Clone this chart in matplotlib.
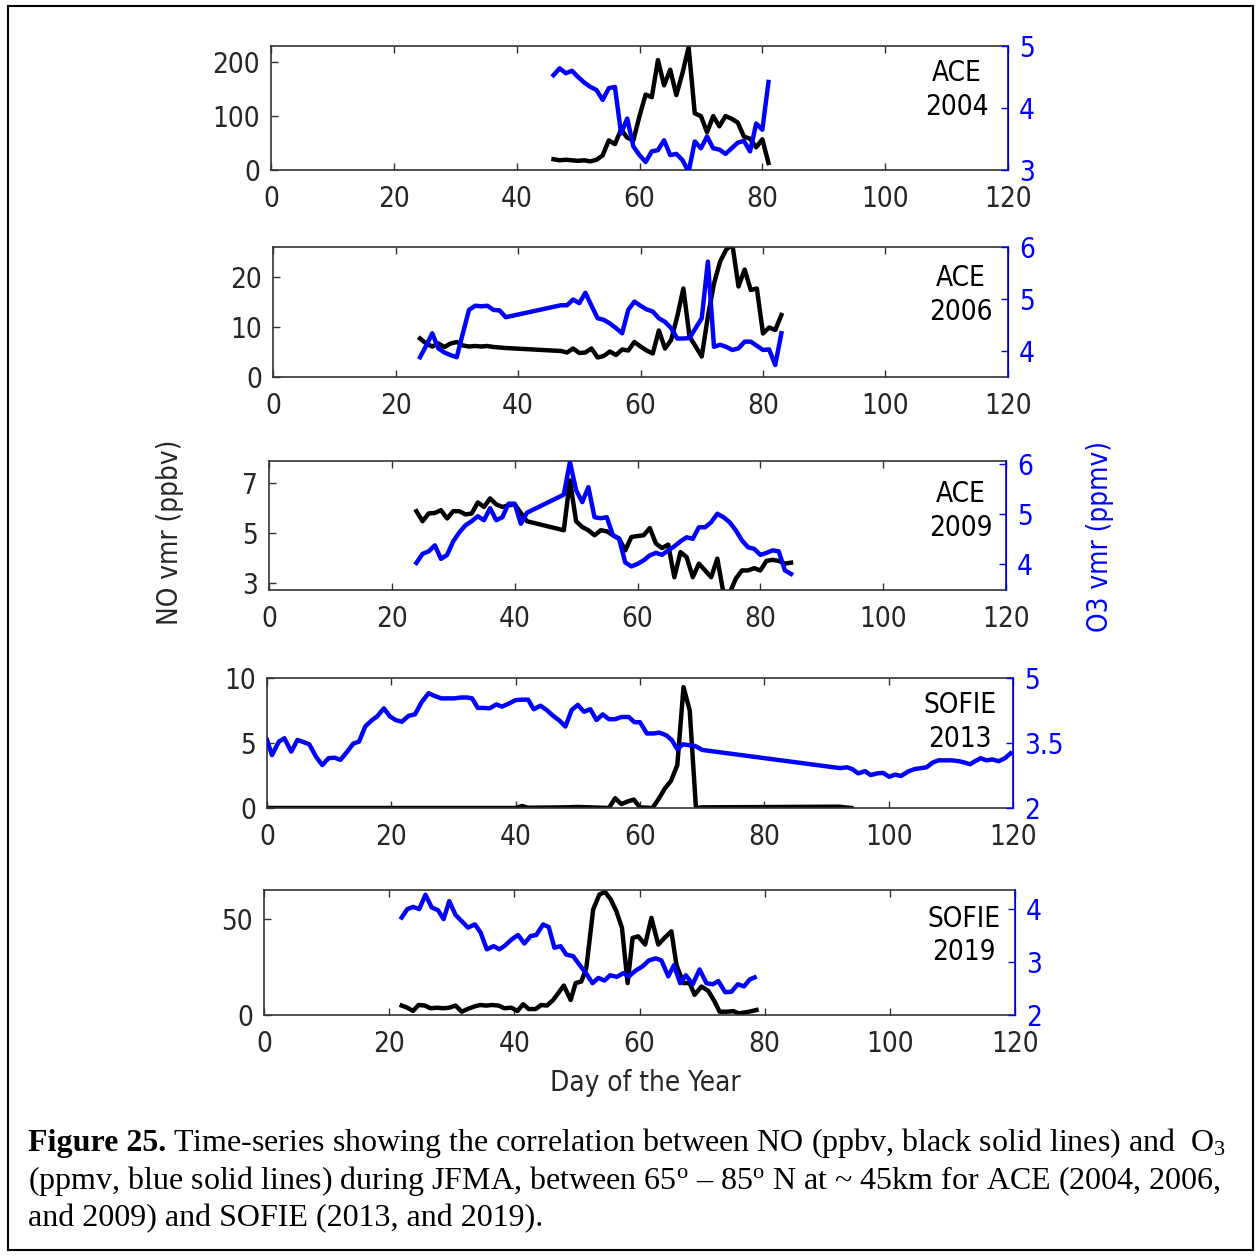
import matplotlib
matplotlib.use('Agg')
import matplotlib.pyplot as plt
from matplotlib.patches import Rectangle

plt.rcParams['font.family'] = ['DejaVu Sans']
plt.rcParams['font.stretch'] = 'condensed'
plt.rcParams['mathtext.fontset'] = 'custom'
plt.rcParams['mathtext.rm'] = 'Liberation Serif'
plt.rcParams['mathtext.it'] = 'Liberation Serif:italic'
plt.rcParams['mathtext.bf'] = 'Liberation Serif:bold'

# ---- data ----
# ACE 2004
ace04_day = list(range(46, 82))
ace04_no = [20, 18, 19, 18, 17, 18, 16, 19, 27, 55, 48, 75, 60, 55, 100, 140, 135, 204,
            157, 186, 139, 180, 228, 105, 100, 70, 100, 81, 100, 95, 88, 62, 58, 42, 57, 13]
ace04_o3 = [4.53, 4.64, 4.56, 4.60, 4.50, 4.41, 4.34, 4.29, 4.13, 4.32, 4.34, 3.59, 3.83,
            3.38, 3.24, 3.13, 3.30, 3.32, 3.48, 3.24, 3.26, 3.16, 2.97, 3.46, 3.35, 3.54,
            3.35, 3.33, 3.26, 3.35, 3.44, 3.47, 3.30, 3.75, 3.65, 4.42]

# ACE 2006
ace06_day = list(range(24, 39)) + list(range(47, 84))
ace06_no = [7.7, 6.7, 6.1, 6.7, 6.0, 6.7, 7.0, 6.3, 6.1, 6.2, 6.1, 6.2, 6.0, 5.9, 5.8,
            5.2, 4.9, 5.7, 4.8, 4.9, 5.7, 3.9, 4.2, 5.1, 4.4, 5.5, 5.3, 7.0, 6.1, 5.3, 4.7,
            9.3, 5.7, 7.4, 12.1, 17.7, 8.1, 6.1, 4.1, 12.1, 18.7, 23.1, 25.5, 26.5, 18.1,
            21.5, 17.4, 17.7, 8.7, 9.9, 9.4, 12.4]
ace06_o3 = [3.88, 4.10, 4.34, 4.05, 3.97, 3.92, 3.88, 4.34, 4.79, 4.87, 4.86, 4.87, 4.79,
            4.78, 4.65,
            4.88, 4.88, 4.99, 4.92, 5.12, 4.87, 4.63, 4.60, 4.53, 4.44, 4.34, 4.79, 4.95,
            4.87, 4.80, 4.76, 4.63, 4.56, 4.44, 4.24, 4.24, 4.25, 4.44, 4.63, 5.72, 4.08,
            4.12, 4.08, 4.02, 4.05, 4.18, 4.18, 4.10, 4.02, 4.03, 3.73, 4.34]

# ACE 2009
ace09_day = list(range(24, 43)) + list(range(48, 86))
ace09_no = [5.87, 5.47, 5.78, 5.80, 5.91, 5.58, 5.87, 5.87, 5.74, 5.78, 6.22, 6.04, 6.38,
            6.14, 6.04, 6.10, 6.15, 5.80, 5.47,
            5.11, 7.10, 5.47, 5.24, 5.11, 4.91, 5.11, 5.07, 4.91, 4.78, 4.31, 4.84, 4.88,
            4.91, 5.20, 4.58, 4.40, 4.54, 3.24, 4.24, 4.04, 3.24, 3.78, 3.51, 3.24, 3.98,
            2.60, 2.60, 3.18, 3.51, 3.51, 3.60, 3.51, 3.89, 3.93, 3.89, 3.78, 3.82]
ace09_o3 = [4.02, 4.20, 4.25, 4.37, 4.10, 4.18, 4.45, 4.63, 4.77, 4.85, 4.95, 4.87, 5.11,
            4.87, 4.93, 5.20, 5.20, 4.80, 5.02,
            5.38, 6.03, 5.47, 5.23, 5.53, 4.93, 4.91, 4.93, 4.57, 4.50, 4.03, 3.95, 4.00,
            4.07, 4.17, 4.22, 4.18, 4.27, 4.35, 4.45, 4.53, 4.50, 4.73, 4.73, 4.83, 5.00,
            4.93, 4.83, 4.67, 4.47, 4.33, 4.30, 4.18, 4.22, 4.27, 4.25, 3.87, 3.80]

# SOFIE 2013
sof13_no_day = [0, 40, 41, 42, 48, 50, 55, 56, 57, 58, 59, 60, 62, 63, 64, 65, 66, 67, 68,
                69, 70, 92, 94]
sof13_no = [0.0, 0.0, 0.15, 0.02, 0.05, 0.08, 0.0, 0.75, 0.3, 0.5, 0.65, 0.05, 0.0, 0.7,
            1.5, 2.1, 3.3, 9.3, 7.5, 0.0, 0.05, 0.1, 0.0]
sof13_o3_day = [0, 0.8, 1.9, 2.8, 3.9, 4.9, 5.9, 6.8, 7.9, 8.9, 9.9, 10.9, 11.8, 12.9, 13.9,
                14.8, 15.8, 16.9, 17.7, 18.8, 19.8, 20.7, 21.7, 22.8, 23.8, 24.9, 26.0,
                26.9, 28.0, 29.0, 30.1, 31.2, 32.2, 33.0, 33.9, 34.8, 35.8, 36.9, 37.8,
                38.9, 40.0, 40.9, 42.0, 42.9, 44.0, 45.0, 46.0, 47.1, 48.0, 49.0, 50.0,
                51.0, 52.0, 53.0, 54.0, 55.0, 56.0, 57.0, 58.2, 59.1, 60.0, 61.1, 62.2,
                63.1, 64.2, 65.1, 66.0, 66.9, 67.8, 68.9, 70.0, 92.2, 93.3, 94.1, 95.1,
                96.2, 97.1, 98.2, 99.1, 100.1, 101.0, 102.0, 103.1, 104.2, 105.2, 106.1,
                107.1, 108.0, 109.1, 110.2, 111.3, 112.2, 113.1, 113.9, 114.8, 115.7,
                116.7, 117.7, 118.7, 119.6]
sof13_o3 = [3.57, 3.22, 3.53, 3.61, 3.30, 3.57, 3.52, 3.47, 3.18, 2.99, 3.15, 3.16, 3.11,
            3.30, 3.49, 3.53, 3.88, 4.03, 4.11, 4.30, 4.11, 4.03, 3.99, 4.13, 4.16, 4.45,
            4.65, 4.59, 4.53, 4.53, 4.53, 4.55, 4.55, 4.53, 4.31, 4.31, 4.30, 4.39, 4.34,
            4.41, 4.49, 4.50, 4.50, 4.28, 4.36, 4.26, 4.13, 4.01, 3.88, 4.26, 4.38, 4.22,
            4.28, 4.03, 4.16, 4.05, 4.05, 4.10, 4.10, 3.98, 3.98, 3.72, 3.72, 3.74, 3.68,
            3.57, 3.36, 3.47, 3.45, 3.43, 3.34, 2.92, 2.94, 2.90, 2.80, 2.85, 2.76, 2.80,
            2.81, 2.72, 2.77, 2.74, 2.84, 2.90, 2.92, 2.94, 3.05, 3.10, 3.10, 3.10, 3.08,
            3.05, 3.01, 3.08, 3.15, 3.10, 3.12, 3.08, 3.15, 3.26]

# SOFIE 2019
sof19_no_day = [22.0, 22.9, 23.8, 24.7, 25.7, 26.6, 27.7, 28.6, 29.6, 30.6, 31.6, 32.5,
                33.6, 34.5, 35.5, 36.5, 37.5, 38.4, 39.5, 40.5, 41.4, 42.3, 43.4, 44.3,
                45.2, 46.2, 47.0, 47.9, 49.0, 49.8, 50.7, 51.5, 52.6, 53.6, 54.5, 55.4,
                56.3, 57.2, 58.1, 58.9, 59.8, 60.9, 61.9, 63.0, 64.0, 65.1, 65.9, 67.0,
                68.0, 68.8, 69.9, 71.0, 72.0, 72.8, 73.9, 75.0, 75.8, 76.8, 77.9, 78.7]
sof19_no = [4.9, 3.8, 2.1, 5.2, 4.9, 3.5, 3.8, 3.5, 3.8, 4.9, 1.7, 3.1, 4.4, 5.2, 4.9, 5.2,
            4.9, 3.5, 3.8, 2.1, 5.6, 3.1, 3.1, 5.2, 4.9, 7.8, 11.3, 15.3, 7.8, 16.6, 17.4,
            24.4, 54.9, 62.7, 64.0, 60.1, 54.0, 45.3, 16.6, 40.1, 40.9, 36.6, 50.5, 36.6,
            40.1, 43.5, 26.1, 16.6, 16.6, 10.5, 14.8, 12.5, 7.0, 1.7, 1.7, 2.0, 0.9, 1.3,
            2.0, 2.6]
sof19_o3_day = [22.0, 22.9, 23.8, 24.8, 25.8, 26.8, 27.8, 28.7, 29.6, 30.6, 31.6, 32.6,
                33.7, 34.6, 35.6, 36.7, 37.6, 38.5, 39.6, 40.6, 41.6, 42.6, 43.5, 44.6,
                45.5, 46.4, 47.4, 48.3, 49.4, 50.4, 51.5, 52.5, 53.4, 54.4, 55.3, 56.4,
                57.4, 58.3, 59.4, 60.5, 61.5, 62.6, 63.5, 64.6, 65.5, 66.5, 67.4, 68.5,
                69.6, 70.7, 71.7, 72.6, 73.7, 74.7, 75.7, 76.7, 77.6, 78.4]
sof19_o3 = [3.84, 4.00, 4.04, 4.00, 4.27, 4.03, 3.98, 3.81, 4.15, 3.89, 3.77, 3.65, 3.71,
            3.56, 3.24, 3.30, 3.24, 3.31, 3.43, 3.51, 3.35, 3.49, 3.51, 3.71, 3.66, 3.27,
            3.30, 3.14, 3.11, 2.95, 2.78, 2.60, 2.70, 2.65, 2.75, 2.72, 2.79, 2.73, 2.84,
            2.92, 3.03, 3.07, 3.03, 2.73, 2.94, 2.60, 2.75, 2.58, 2.86, 2.60, 2.58, 2.64,
            2.43, 2.44, 2.58, 2.54, 2.67, 2.71]

x_ticks = [0, 20, 40, 60, 80, 100, 120]

# ---- layout (pixel boxes of the reference) ----
W, H = 1259, 1256
fig = plt.figure(figsize=(W / 100, H / 100), dpi=100)


def box(l, t, r, b):
    return [l / W, 1 - b / H, (r - l) / W, (b - t) / H]


panels = [
    dict(pos=box(271, 46, 1008, 170), no=(ace04_day, ace04_no), o3=(ace04_day, ace04_o3),
         ylim=(0, 230), yt=[0, 100, 200], ylim2=(3, 5), yt2=[3, 4, 5], yl2=['3', '4', '5'],
         name=('ACE', '2004'), tpos=(0.931, 0.78, 0.51)),
    dict(pos=box(273, 247, 1008, 377), no=(ace06_day, ace06_no), o3=(ace06_day, ace06_o3),
         ylim=(0, 26), yt=[0, 10, 20], ylim2=(3.5, 6), yt2=[4, 5, 6], yl2=['4', '5', '6'],
         name=('ACE', '2006'), tpos=(0.936, 0.76, 0.50)),
    dict(pos=box(269, 461, 1006, 590), no=(ace09_day, ace09_no), o3=(ace09_day, ace09_o3),
         ylim=(2.73, 7.87), yt=[3, 5, 7], ylim2=(3.48, 6.05), yt2=[4, 5, 6],
         yl2=['4', '5', '6'], name=('ACE', '2009'), tpos=(0.939, 0.744, 0.48)),
    dict(pos=box(267, 678, 1013, 808), no=(sof13_no_day, sof13_no),
         o3=(sof13_o3_day, sof13_o3), ylim=(0, 10), yt=[0, 5, 10], ylim2=(2, 5),
         yt2=[2, 3.5, 5], yl2=['2', '3.5', '5'], name=('SOFIE', '2013'),
         tpos=(0.929, 0.79, 0.53)),
    dict(pos=box(264, 890, 1015, 1015), no=(sof19_no_day, sof19_no),
         o3=(sof19_o3_day, sof19_o3), ylim=(0, 65), yt=[0, 50], ylim2=(2, 4.36),
         yt2=[2, 3, 4], yl2=['2', '3', '4'], name=('SOFIE', '2019'),
         tpos=(0.932, 0.77, 0.50)),
]

FS = 20
frame = '0.2'
for p in panels:
    ax = fig.add_axes(p['pos'])
    ax.plot(p['no'][0], p['no'][1], color='k', lw=3.2, solid_joinstyle='round')
    ax.set_xlim(0, 120)
    ax.set_ylim(*p['ylim'])
    ax.set_xticks(x_ticks)
    ax.set_yticks(p['yt'])
    ax.tick_params(axis='both', direction='in', length=5, width=1, colors=frame,
                   labelsize=FS, labelcolor='0.15', top=True, pad=8)
    ax.tick_params(axis='x', pad=11)
    for s in ['left', 'top', 'bottom']:
        ax.spines[s].set_color(frame)
        ax.spines[s].set_linewidth(1.2)

    ax2 = ax.twinx()
    ax2.plot(p['o3'][0], p['o3'][1], color='b', lw=3.2, solid_joinstyle='round')
    ax2.set_ylim(*p['ylim2'])
    ax2.set_yticks(p['yt2'])
    ax2.set_yticklabels(p['yl2'])
    ax2.tick_params(axis='y', direction='in', length=5, width=1, colors='b',
                    labelsize=FS, pad=8)
    ax2.spines['right'].set_color('b')
    ax2.spines['right'].set_linewidth(1.2)
    for s in ['left', 'top', 'bottom']:
        ax2.spines[s].set_visible(False)

    tx, ty1, ty2 = p['tpos']
    ax2.text(tx, ty1, p['name'][0], transform=ax2.transAxes, ha='center', va='center',
             fontsize=FS, color='k')
    ax2.text(tx, ty2, p['name'][1], transform=ax2.transAxes, ha='center', va='center',
             fontsize=FS, color='k')

fig.text(170 / W, 1 - 532 / H, 'NO vmr (ppbv)', rotation=90, ha='center', va='center',
         fontsize=FS, color='0.15')
fig.text(1100 / W, 1 - 537 / H, 'O3 vmr (ppmv)', rotation=90, ha='center', va='center',
         fontsize=FS, color='b')
fig.text(645 / W, 1 - 1083 / H, 'Day of the Year', ha='center', va='center',
         fontsize=FS, color='0.15')

# caption
serif = 'Liberation Serif'
cfs = 23
t0 = fig.text(28 / W, 1 - 1151 / H, 'Figure 25.', family=serif, fontweight='bold',
              fontsize=cfs, va='baseline', stretch='normal')
r = fig.canvas.get_renderer()
x1 = t0.get_window_extent(r).x1 / W + 7 / W
fig.text(x1, 1 - 1151 / H,
         'Time-series showing the correlation between NO (ppbv, black solid lines) and  O$_3$',
         family=serif, fontsize=cfs, va='baseline', stretch='normal')
fig.text(28 / W, 1 - 1189 / H,
         '(ppmv, blue solid lines) during JFMA, between 65$^{\\mathrm{o}}$ \u2013 85$^{\\mathrm{o}}$'
         ' N at ~ 45km for ACE (2004, 2006,', family=serif, fontsize=cfs, va='baseline',
         stretch='normal')
fig.text(28 / W, 1 - 1226 / H, 'and 2009) and SOFIE (2013, and 2019).',
         family=serif, fontsize=cfs, va='baseline', stretch='normal')

fig.add_artist(Rectangle((8 / W, 1 - 1250 / H), 1245 / W, 1244 / H,
                         transform=fig.transFigure, fill=False, ec='k', lw=1.5))

fig.savefig('out.png', dpi=100)
